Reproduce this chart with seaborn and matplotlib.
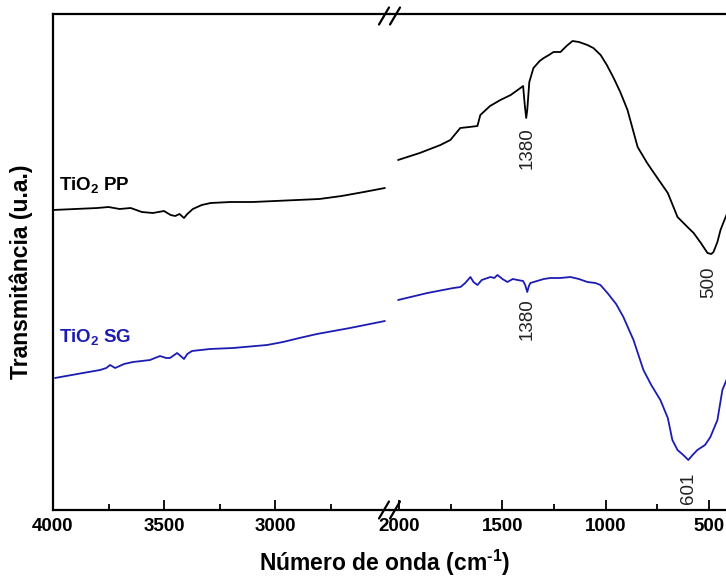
import numpy as np
import pandas as pd
import matplotlib
matplotlib.use("Agg")
import matplotlib.pyplot as plt
from matplotlib.lines import Line2D
from matplotlib.ticker import FixedLocator
import seaborn as sns

# ---- spectra (wavenumber in cm-1, transmittance in arbitrary units) ----
pp_hi_wn = [4000, 3900, 3800, 3750, 3700, 3650, 3600, 3550, 3500, 3470, 3450, 3430,
            3410, 3395, 3370, 3330, 3290, 3200, 3100, 3000, 2900, 2800, 2700, 2600, 2505]
pp_hi_t = [300, 301, 302, 303, 301, 302, 298, 297, 299, 295, 294, 296,
           292, 296, 301, 305, 307, 308, 308, 309, 310, 311, 314, 318, 322]

pp_lo_wn = [2005, 1900, 1800, 1752, 1704, 1660, 1621, 1607, 1560, 1510, 1460, 1413,
            1400, 1392, 1385, 1380, 1370, 1350, 1320, 1300, 1275, 1253, 1219, 1190,
            1161, 1130, 1089, 1060, 1025, 995, 962, 930, 895, 846, 800, 767, 700,
            653, 600, 575, 540, 508, 490, 479, 460, 445, 430, 416, 400]
pp_lo_t = [350, 357, 365, 370, 382, 383, 384, 395, 404, 410, 415, 422,
           424, 405, 392, 400, 428, 442, 449, 452, 455, 458, 458, 464,
           469, 468, 465, 462, 455, 445, 432, 418, 400, 363, 347, 337, 317,
           293, 282, 277, 267, 257, 256, 258, 268, 280, 288, 295, 305]

sg_hi_wn = [3991, 3865, 3788, 3760, 3743, 3720, 3680, 3640, 3600, 3563, 3518, 3490,
            3473, 3441, 3425, 3410, 3395, 3374, 3293, 3189, 3036, 2964, 2890, 2811,
            2662, 2505]
sg_hi_t = [132, 137, 140, 142, 145, 142, 146, 148, 149, 150, 154, 152,
           152, 157, 154, 151, 156, 159, 161, 162, 165, 168, 172, 176,
           182, 189]

sg_lo_wn = [2005, 1863, 1737, 1703, 1680, 1655, 1640, 1621, 1600, 1558, 1540, 1524,
            1500, 1476, 1450, 1427, 1400, 1390, 1380, 1372, 1365, 1300, 1268, 1220,
            1171, 1130, 1089, 1050, 1026, 992, 950, 915, 866, 818, 780, 736, 700,
            678, 653, 625, 601, 580, 557, 520, 494, 460, 436, 416, 400]
sg_lo_t = [210, 217, 222, 223, 227, 233, 228, 225, 230, 233, 232, 235,
           231, 228, 231, 230, 229, 225, 218, 224, 227, 231, 232, 232,
           233, 231, 228, 227, 225, 217, 206, 193, 170, 140, 125, 110, 92,
           70, 60, 55, 50, 55, 60, 65, 73, 90, 120, 130, 138]

peak_wn = [1380, 500, 1380, 601]
peak_txt = ["1380", "500", "1380", "601"]
peak_top = [383, 243, 212, 37]

labels = {"PP": r"TiO$_{\mathbf{2}}$ PP", "SG": r"TiO$_{\mathbf{2}}$ SG"}
colors = {"PP": "black", "SG": "#1c1cb4"}
label_y = {"PP": 315, "SG": 163}

sns.set_style("ticks")
plt.rcParams["font.family"] = ["Liberation Sans", "DejaVu Sans"]
plt.rcParams["mathtext.fontset"] = "custom"
plt.rcParams["mathtext.rm"] = "Liberation Sans:bold"
plt.rcParams["mathtext.bf"] = "Liberation Sans:bold"
plt.rcParams["mathtext.it"] = "Liberation Sans:bold"
plt.rcParams["axes.edgecolor"] = "black"
plt.rcParams["xtick.color"] = "black"
plt.rcParams["text.color"] = "black"

W, H = 726, 583
fig = plt.figure(figsize=(W / 100, H / 100), dpi=100)

x0, xb, y0, y1 = 53, 390, 510, 14
lo_left, lo_right = 2044, 380
px_per_unit = 0.2067
right_px = xb + (lo_left - lo_right) * px_per_unit

ax1 = fig.add_axes([x0 / W, (H - y0) / H, (xb - x0) / W, (y0 - y1) / H])
ax2 = fig.add_axes([xb / W, (H - y0) / H, (right_px - xb) / W, (y0 - y1) / H])

df_hi = pd.concat([
    pd.DataFrame({"wn": pp_hi_wn, "T": pp_hi_t, "s": "PP"}),
    pd.DataFrame({"wn": sg_hi_wn, "T": sg_hi_t, "s": "SG"}),
])
df_lo = pd.concat([
    pd.DataFrame({"wn": pp_lo_wn, "T": pp_lo_t, "s": "PP"}),
    pd.DataFrame({"wn": sg_lo_wn, "T": sg_lo_t, "s": "SG"}),
])

for ax, df in ((ax1, df_hi), (ax2, df_lo)):
    for s, sub in df.groupby("s"):
        sns.lineplot(data=sub, x="wn", y="T", ax=ax, color=colors[s],
                     sort=False, estimator=None, lw=1.3)
    ax.set_ylim(0, 496)
    ax.set_yticks([])
    ax.set_xlabel("")
    ax.set_ylabel("")
    ax.tick_params(axis="x", which="major", direction="in", length=7, width=1.3,
                   labelsize=13.5, pad=6, colors="black")
    ax.tick_params(axis="x", which="minor", direction="in", length=4, width=1.3,
                   colors="black")
    for sp in ax.spines.values():
        sp.set_linewidth(1.6)
        sp.set_color("black")

ax1.set_xlim(4000, 2482)
ax1.xaxis.set_major_locator(FixedLocator([4000, 3500, 3000]))
ax1.xaxis.set_minor_locator(FixedLocator([3750, 3250, 2750]))
ax1.spines["right"].set_visible(False)

ax2.set_xlim(lo_left, lo_right)
ax2.xaxis.set_major_locator(FixedLocator([2000, 1500, 1000, 500]))
ax2.xaxis.set_minor_locator(FixedLocator([1750, 1250, 750]))
ax2.spines["left"].set_visible(False)

for ax in (ax1, ax2):
    for lab in ax.get_xticklabels():
        lab.set_fontweight("bold")

# series names
for s in ("PP", "SG"):
    ax1.text(3975, label_y[s], labels[s], color=colors[s], fontsize=13.5,
             fontweight="bold", ha="left", va="bottom")

# band positions
for wn, txt, top in zip(peak_wn, peak_txt, peak_top):
    ax2.text(wn, top, txt, rotation=90, ha="center", va="top", fontsize=13.5,
             color="#222222")

# axis break marks
def slash(xc, yc):
    fig.add_artist(Line2D([(xc - 5) / W, (xc + 5) / W],
                          [(H - yc - 8.5) / H, (H - yc + 8.5) / H],
                          color="black", lw=1.6, transform=fig.transFigure))

for xc in (xb - 6, xb + 5):
    slash(xc, y1 + 2)
    slash(xc, y0)

fig.text(385 / W, (H - 563) / H, r"Número de onda (cm$^{\text{-1}}$)",
         ha="center", va="center", fontsize=16.5, fontweight="bold")
fig.text(21 / W, (H - 272) / H, "Transmitância (u.a.)", rotation=90,
         ha="center", va="center", fontsize=16.5, fontweight="bold")

fig.savefig("out.png", dpi=100)
